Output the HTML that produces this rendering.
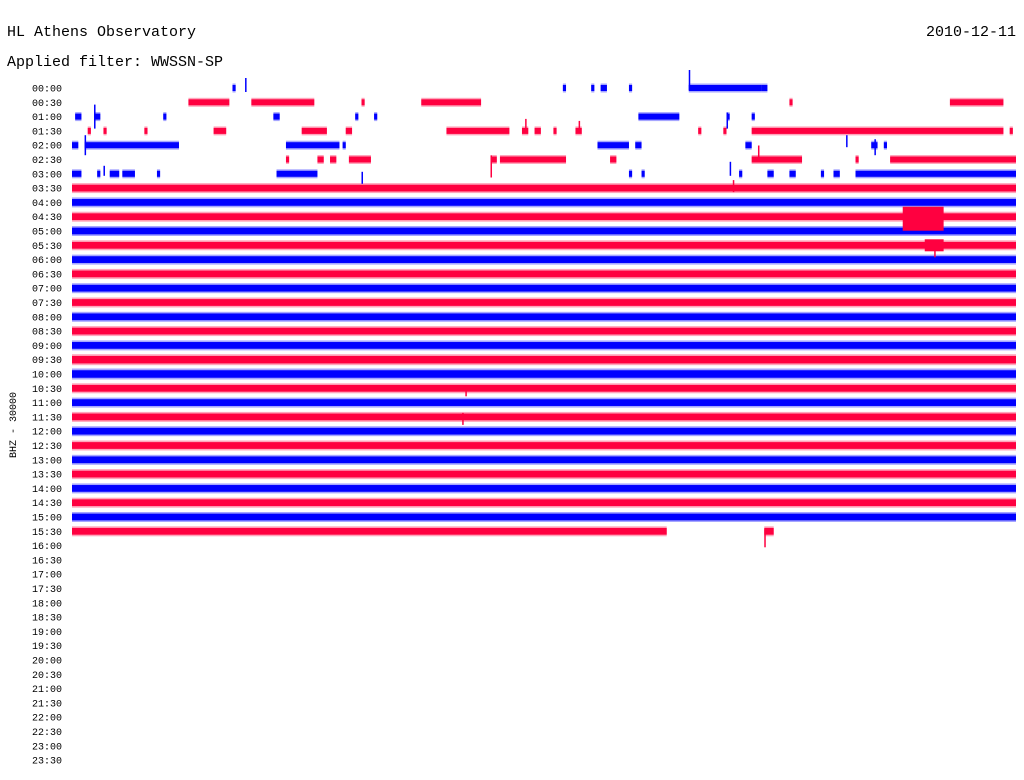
<!DOCTYPE html>
<html><head><meta charset="utf-8"><style>
html,body{margin:0;padding:0;background:#fff;width:1024px;height:780px;overflow:hidden}
svg{display:block}
</style></head><body>
<svg id="chart" width="1024" height="780" viewBox="0 0 1024 780" xmlns="http://www.w3.org/2000/svg">
<text x="7" y="36" font-family="Liberation Mono, monospace" font-size="15">HL Athens Observatory</text>
<text x="1016" y="36" text-anchor="end" font-family="Liberation Mono, monospace" font-size="15">2010-12-11</text>
<text x="7" y="66" font-family="Liberation Mono, monospace" font-size="15">Applied filter: WWSSN-SP</text>
<text transform="translate(16,425) rotate(-90)" text-anchor="middle" font-family="Liberation Mono, monospace" font-size="10">BHZ - 30000</text>
<g id="labels"></g>
<g id="traces"></g>
</svg>
<script>
// row labels (48 half-hour rows)
const rowLabels = [];
for (let h = 0; h < 24; h++) { const hh = String(h).padStart(2,'0'); rowLabels.push(hh+':00', hh+':30'); }
// trace half-amplitude per row
const rowAmp = [4,4,4,4,4,4,4, 4.5,4.5,4.5,4.5,4.5,4.5,4.5,4.5,4.5,4.5,4.5,4.5,5,5,4.5,4.5,4.5,4.5,4.5,4.5,4.5,4.5,4.5,4.5,4.5];
// segments: [row, startMinute, endMinute]
const segments = [
 [0,5.1,5.2],[0,15.6,15.7],[0,16.5,16.6],[0,16.8,17.0],[0,17.7,17.8],[0,19.6,21.9],[0,21.9,22.1],
 [1,3.7,5.0],[1,5.7,7.7],[1,9.2,9.3],[1,11.1,13.0],[1,22.8,22.9],[1,27.9,29.6],
 [2,0.1,0.3],[2,0.7,0.9],[2,2.9,3.0],[2,6.4,6.6],[2,9.0,9.1],[2,9.6,9.7],[2,18.0,19.3],[2,20.8,20.9],[2,21.6,21.7],
 [3,0.5,0.6],[3,1.0,1.1],[3,2.3,2.4],[3,4.5,4.9],[3,7.3,8.1],[3,8.7,8.9],[3,11.9,13.9],[3,14.3,14.5],[3,14.7,14.9],[3,15.3,15.4],[3,16.0,16.2],[3,19.9,20.0],[3,20.7,20.8],[3,21.6,29.6],[3,29.8,29.9],
 [4,0,0.2],[4,0.4,3.4],[4,6.8,8.5],[4,8.6,8.7],[4,16.7,17.7],[4,17.9,18.1],[4,21.4,21.6],[4,25.4,25.6],[4,25.8,25.9],
 [5,6.8,6.9],[5,7.8,8.0],[5,8.2,8.4],[5,8.8,9.5],[5,13.3,13.5],[5,13.6,15.7],[5,17.1,17.3],[5,21.6,23.2],[5,24.9,25.0],[5,26.0,30],
 [6,0,0.3],[6,0.8,0.9],[6,1.2,1.5],[6,1.6,2.0],[6,2.7,2.8],[6,6.5,7.8],[6,17.7,17.8],[6,18.1,18.2],[6,21.2,21.3],[6,22.1,22.3],[6,22.8,23.0],[6,23.8,23.9],[6,24.2,24.4],[6,24.9,30],
 [7,0,30],[8,0,30],[9,0,30],[10,0,30],[11,0,30],[12,0,30],[13,0,30],[14,0,30],[15,0,30],[16,0,30],[17,0,30],[18,0,30],[19,0,30],[20,0,30],[21,0,30],[22,0,30],[23,0,30],[24,0,30],
 [25,0,30],[26,0,30],[27,0,30],[28,0,30],[29,0,30],[30,0,30],
 [31,0,18.9],[31,22.0,22.3]
];
// events (larger amplitude): [row, start, end, upAmp, downAmp]
const events = [[9,26.4,27.7,10,14],[11,27.1,27.7,6,6]];
// spikes: [row, minute, up, down]
const spikes = [[0,5.5,10,4],[0,19.6,18,2],[2,0.7,12,12],[2,20.8,4,12],[3,14.4,12,2],[3,16.1,10,2],[4,0.4,10,10],[4,24.6,10,2],[4,25.5,6,10],[5,13.3,4,18],[5,21.8,14,2],[6,9.2,2,10],[6,20.9,12,2],[6,1.0,8,2],[31,22.0,2,16],[21,12.5,2,8],[23,12.4,4,8],[7,21.0,8,4],[11,27.4,2,12]];

const X0 = 72, X1 = 1016, Y0 = 88, DY = 14.3;
const xs = m => X0 + (m / 30) * (X1 - X0);
const ys = r => Y0 + r * DY;
const col = r => r % 2 === 0 ? '#0000ff' : '#ff0040';
const NS = 'http://www.w3.org/2000/svg';
const lg = document.getElementById('labels'), tg = document.getElementById('traces');

rowLabels.forEach((t, i) => {
  const e = document.createElementNS(NS, 'text');
  
  
  e.setAttribute('x', 62); e.setAttribute('y', ys(i) + 3.5);
  e.setAttribute('text-anchor', 'end');
  e.setAttribute('font-family', 'Liberation Mono, monospace');
  e.setAttribute('font-size', '10');
  e.textContent = t; lg.appendChild(e);
});

function rect(x, y, w, h, c, op, name) {
  const e = document.createElementNS(NS, 'rect');
  
  
  e.setAttribute('x', x); e.setAttribute('y', y);
  e.setAttribute('width', Math.max(w, 1.5)); e.setAttribute('height', h);
  e.setAttribute('fill', c);
  if (op < 1) e.setAttribute('fill-opacity', op);
  tg.appendChild(e);
}
segments.forEach(([r, a, b]) => {
  const A = rowAmp[r] || 4.5, y = ys(r), x = xs(a), w = xs(b) - xs(a);
  rect(x, y - A - 0.5, w, 2 * A + 1, col(r), 0.35, 'trace-fringe');
  rect(x, y - A * 0.75, w, 1.5 * A, col(r), 1, 'trace-segment');
});
events.forEach(([r, a, b, U, D]) => {
  rect(xs(a), ys(r) - U, xs(b) - xs(a), U + D, col(r), 1, 'earthquake-event');
});
spikes.forEach(([r, m, u, d]) => {
  rect(xs(m), ys(r) - u, 1.5, u + d, col(r), 1, 'trace-spike');
});
</script>
</body></html>
